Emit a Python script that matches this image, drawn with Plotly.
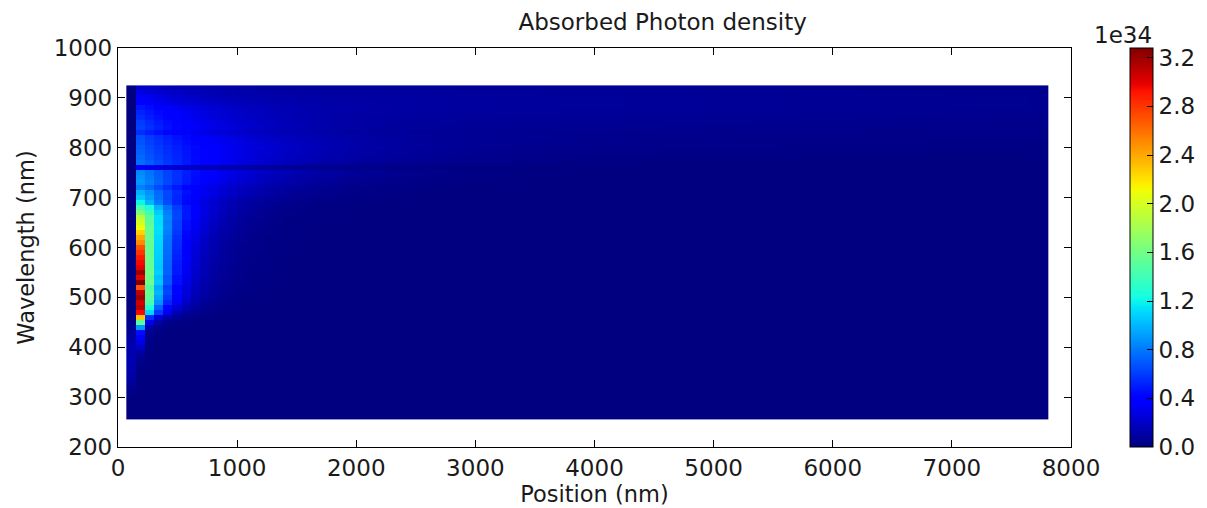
import numpy as np
import plotly.graph_objects as go

# Wavelength rows (nm), one per spectral bin
wavelength_nm = list(range(260, 930, 10))

# Position cell edges (nm) across the device stack
position_edges_nm = np.linspace(70, 7810, 101)

# Absorbed photon density, units of 1e34, listed from 260 nm to 920 nm
window_layer = [
    0, 0, 0, 0, 0.01, 0.03, 0.05, 0.08, 0.10, 0.12,
    0.13, 0.14, 0.14, 0.14, 0.13, 0.12, 0.10, 0.08, 0.05, 0.03,
    0, 0, 0, 0, 0, 0, 0, 0, 0, 0,
    0, 0, 0, 0, 0, 0, 0, 0, 0, 0,
    0, 0, 0, 0, 0, 0, 0, 0, 0, 0,
    0, 0, 0, 0, 0, 0, 0, 0, 0, 0,
    0, 0, 0, 0, 0, 0, 0,
]
absorber_surface = [
    0, 0, 0, 0, 0, 0, 0, 0, 0.01, 0.01,
    0.02, 0.03, 0.05, 0.10, 0.20, 0.28, 0.35, 0.45, 0.90, 1.50,
    2.30, 2.95, 3.10, 3.05, 3.20, 3.10, 2.70, 3.28, 3.00, 3.20,
    3.00, 2.95, 2.90, 2.80, 2.70, 2.50, 2.40, 2.25, 2.10, 2.00,
    1.90, 1.65, 1.45, 1.20, 1.05, 0.98, 0.82, 0.90, 0.88, 0.85,
    0.35, 0.76, 0.74, 0.72, 0.70, 0.68, 0.66, 0.55, 0.62, 0.60,
    0.55, 0.52, 0.48, 0.38, 0.35, 0.28, 0.22,
]
# Strongly absorbed part, value in the second absorber cell
absorber_second = [
    0, 0, 0, 0, 0, 0, 0, 0, 0, 0,
    0, 0, 0, 0.01, 0.02, 0.02, 0.03, 0.05, 0.12, 0.30,
    0.55, 1.10, 1.25, 1.45, 1.50, 1.55, 1.45, 1.60, 1.55, 1.60,
    1.55, 1.55, 1.55, 1.55, 1.55, 1.55, 1.55, 1.55, 1.55, 1.50,
    1.50, 1.40, 1.25, 1.00, 0.92, 0.88, 0.75, 0.82, 0.80, 0.78,
    0.32, 0.70, 0.66, 0.63, 0.60, 0.57, 0.54, 0.44, 0.48, 0.45,
    0.40, 0.37, 0.32, 0.23, 0.20, 0.15, 0.10,
]
# Absorption length (nm) of that part
absorption_length_nm = [
    50, 50, 50, 50, 50, 50, 50, 50, 50, 50,
    50, 50, 50, 50, 50, 50, 50, 50, 60, 80,
    100, 125, 140, 155, 165, 175, 180, 185, 190, 195,
    200, 205, 210, 215, 220, 225, 230, 240, 250, 260,
    270, 290, 320, 360, 420, 480, 540, 600, 650, 700,
    750, 800, 850, 880, 900, 850, 800, 750, 700, 650,
    620, 600, 550, 500, 450, 400, 400,
]
# Weakly absorbed near-band-edge part reaching the back of the device
deep_component = [
    0, 0, 0, 0, 0, 0, 0, 0, 0, 0,
    0, 0, 0, 0, 0, 0, 0, 0, 0, 0,
    0, 0, 0, 0, 0, 0, 0, 0, 0, 0,
    0, 0, 0, 0, 0, 0, 0, 0, 0, 0,
    0, 0, 0, 0, 0, 0, 0, 0, 0, 0,
    0, 0.01, 0.02, 0.03, 0.04, 0.05, 0.06, 0.06, 0.08, 0.09,
    0.10, 0.11, 0.12, 0.12, 0.12, 0.11, 0.10,
]
deep_absorption_length_nm = 8000

cbar_ticks = [0.0, 0.4, 0.8, 1.2, 1.6, 2.0, 2.4, 2.8, 3.2]

# Build the density grid (rows: wavelength, columns: position cells)
centers = 0.5 * (position_edges_nm[:-1] + position_edges_nm[1:])
n_rows, n_cols = len(wavelength_nm), len(centers)
z = np.zeros((n_rows, n_cols))
z[:, 0] = window_layer
z[:, 1] = absorber_surface
depth = (centers[2:] - centers[2])[None, :]
z[:, 2:] = (
    np.array(absorber_second)[:, None]
    * np.exp(-depth / np.array(absorption_length_nm)[:, None])
    + np.array(deep_component)[:, None]
    * np.exp(-depth / deep_absorption_length_nm)
)

# matplotlib "jet" colormap
jet_r = [(0, 0), (0.35, 0), (0.66, 1), (0.89, 1), (1, 0.5)]
jet_g = [(0, 0), (0.125, 0), (0.375, 1), (0.64, 1), (0.91, 0), (1, 0)]
jet_b = [(0, 0.5), (0.11, 1), (0.34, 1), (0.65, 0), (1, 0)]


def channel(seg, t):
    xs, ys = zip(*seg)
    return np.interp(t, xs, ys)


stops = np.linspace(0, 1, 101)
jet = [
    [float(t), "rgb(%d,%d,%d)" % (round(255 * channel(jet_r, t)),
                                  round(255 * channel(jet_g, t)),
                                  round(255 * channel(jet_b, t)))]
    for t in stops
]

TICK_SIZE = 23
LABEL_SIZE = 22.5

fig = go.Figure(
    go.Heatmap(
        x=position_edges_nm,
        y=wavelength_nm,
        z=z,
        colorscale=jet,
        zmin=0,
        zmax=float(np.max(z)),
        colorbar=dict(
            x=1.062, xanchor="left", xpad=0,
            y=0.5, yanchor="middle", len=1, lenmode="fraction", ypad=0,
            thickness=23,
            outlinewidth=1, outlinecolor="black",
            ticks="inside", ticklen=6, tickcolor="black",
            tickvals=cbar_ticks,
            ticktext=["%.1f" % v for v in cbar_ticks],
            tickfont=dict(size=TICK_SIZE, color="#1a1a1a"),
        ),
        hoverongaps=False,
    )
)

axis_style = dict(
    showline=True, linecolor="black", linewidth=1.3, mirror="allticks",
    ticks="inside", ticklen=7, tickcolor="black", showgrid=False,
    zeroline=False, automargin=False,
    tickfont=dict(size=TICK_SIZE, color="#1a1a1a"),
)

fig.update_layout(
    width=1207, height=508,
    margin=dict(l=118, r=136, t=48, b=61, autoexpand=False),
    paper_bgcolor="white", plot_bgcolor="white",
    font=dict(family="DejaVu Sans", size=LABEL_SIZE, color="#1a1a1a"),
    title=dict(text="Absorbed Photon density", x=0.549, xanchor="center",
               y=0.957, yanchor="middle", font=dict(size=23)),
    xaxis=dict(range=[0, 8000], tickvals=list(range(0, 8001, 1000)),
               title=dict(text="Position (nm)", standoff=4,
                          font=dict(size=LABEL_SIZE)), **axis_style),
    yaxis=dict(range=[200, 1000], tickvals=list(range(200, 1001, 100)),
               title=dict(text="Wavelength (nm)", standoff=12,
                          font=dict(size=LABEL_SIZE)), **axis_style),
    annotations=[dict(text="1e34", xref="paper", yref="paper",
                      x=1.0546, y=1.033, xanchor="center", yanchor="middle",
                      showarrow=False,
                      font=dict(size=TICK_SIZE, color="#1a1a1a"))],
)

fig.write_html("out.html")
